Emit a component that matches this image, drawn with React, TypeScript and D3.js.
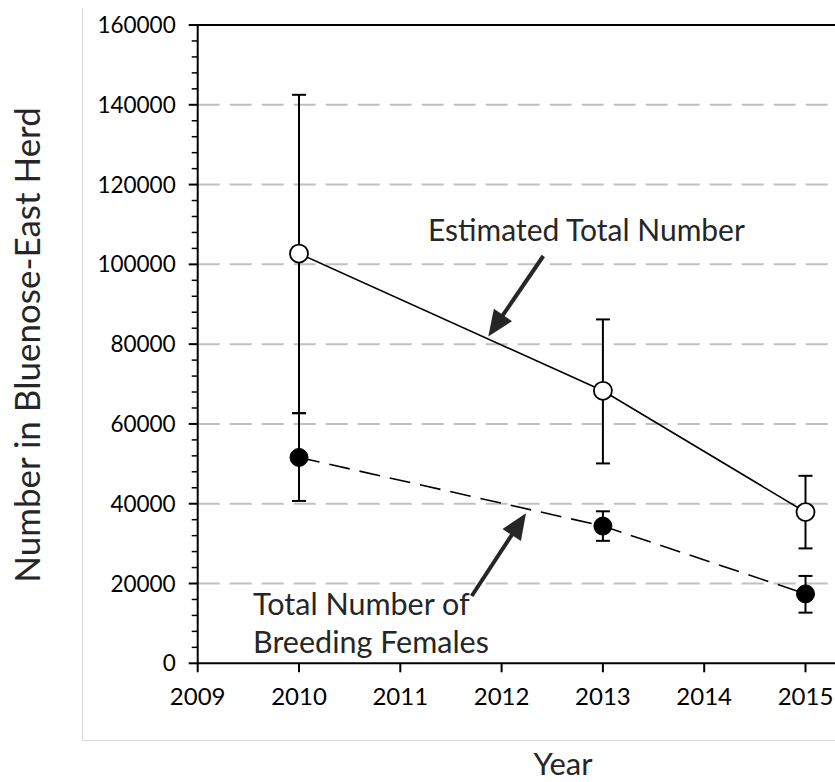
import React from "react";
import * as d3 from "d3";

const years = [2010, 2013, 2015];
const totalValues = [102700, 68300, 37900];
const totalLow = [62700, 50100, 28800];
const totalHigh = [142500, 86200, 47000];
const femaleValues = [51600, 34400, 17400];
const femaleLow = [40700, 30700, 12700];
const femaleHigh = [62700, 38100, 21900];
const xTicks = [2009, 2010, 2011, 2012, 2013, 2014, 2015];
const yTicks = [0, 20000, 40000, 60000, 80000, 100000, 120000, 140000, 160000];

const W = 835;
const H = 782;
const FONT = "Lato, 'Open Sans', sans-serif";

export default function App() {
  const x = d3.scaleLinear().domain([2009, 2015]).range([197.7, 805.5]);
  const y = d3.scaleLinear().domain([0, 160000]).range([663.3, 25]);
  const minor = d3.range(0, 160001, 4000).filter((v) => v % 20000 !== 0);
  const line = d3
    .line<number>()
    .x((_, i) => x(years[i]))
    .y((d) => y(d));
  const cap = 7;
  const r = 9;
  const textColor = "#262626";

  const arrow = (x1: number, y1: number, x2: number, y2: number) => {
    const ang = Math.atan2(y2 - y1, x2 - x1);
    const hl = 26;
    const hw = 11;
    const bx = x2 - hl * Math.cos(ang);
    const by = y2 - hl * Math.sin(ang);
    const px = -Math.sin(ang);
    const py = Math.cos(ang);
    const pts = [
      [x2, y2],
      [bx + hw * px, by + hw * py],
      [bx - hw * px, by - hw * py],
    ];
    return (
      <g>
        <line x1={x1} y1={y1} x2={bx + 2 * Math.cos(ang)} y2={by + 2 * Math.sin(ang)} stroke={textColor} strokeWidth={4} />
        <polygon points={pts.map((p) => p.join(",")).join(" ")} fill={textColor} />
      </g>
    );
  };

  return (
    <div style={{ position: "absolute", left: 0, top: 0 }}>
      <svg width={W} height={H} style={{ display: "block", background: "#fff" }}>
        {/* outer light frame */}
        <line x1={82.5} y1={8} x2={82.5} y2={740.5} stroke="#d9d9d9" strokeWidth={1} />
        <line x1={82.5} y1={740.5} x2={W} y2={740.5} stroke="#d9d9d9" strokeWidth={1} />

        {/* gridlines */}
        {yTicks
          .filter((v) => v > 0 && v < 160000)
          .map((v) => (
            <line key={"g" + v} x1={x(2009)} x2={W} y1={y(v)} y2={y(v)} stroke="#c0c0c0" strokeWidth={2} strokeDasharray="22 10" />
          ))}

        {/* top border */}
        <line x1={x(2009)} x2={W} y1={y(160000)} y2={y(160000)} stroke="#000" strokeWidth={2} />

        {/* y axis */}
        <line x1={x(2009)} x2={x(2009)} y1={y(160000) - 1} y2={y(0) + 1} stroke="#000" strokeWidth={2} />
        {yTicks.map((v) => (
          <g key={"yt" + v}>
            <line x1={x(2009) - 9} x2={x(2009)} y1={y(v)} y2={y(v)} stroke="#000" strokeWidth={2} />
            <text x={x(2009) - 22} y={y(v)} dy="0.36em" textAnchor="end" fontFamily={FONT} fontSize={22.5} fill="#000">
              {v}
            </text>
          </g>
        ))}
        {minor.map((v) => (
          <line key={"mt" + v} x1={x(2009) - 6} x2={x(2009)} y1={y(v)} y2={y(v)} stroke="#000" strokeWidth={1.5} />
        ))}

        {/* x axis */}
        <line x1={x(2009) - 1} x2={W} y1={y(0)} y2={y(0)} stroke="#000" strokeWidth={2} />
        {xTicks.map((v) => (
          <g key={"xt" + v}>
            <line x1={x(v)} x2={x(v)} y1={y(0)} y2={y(0) + 9} stroke="#000" strokeWidth={2} />
            <text x={x(v)} y={y(0) + 42} textAnchor="middle" fontFamily={FONT} fontSize={24} fill="#000">
              {v}
            </text>
          </g>
        ))}

        {/* axis titles */}
        <text
          transform={`translate(40,345) rotate(-90)`}
          textAnchor="middle"
          fontFamily={FONT}
          fontSize={35}
          fill={textColor}
        >
          Number in Bluenose-East Herd
        </text>
        <text x={563} y={775} textAnchor="middle" fontFamily={FONT} fontSize={31} fill={textColor}>
          Year
        </text>

        {/* error bars */}
        {years.map((yr, i) => (
          <g key={"eb" + yr} stroke="#000" strokeWidth={2}>
            <line x1={x(yr)} x2={x(yr)} y1={y(totalHigh[i])} y2={y(totalLow[i])} />
            <line x1={x(yr) - cap} x2={x(yr) + cap} y1={y(totalHigh[i])} y2={y(totalHigh[i])} />
            <line x1={x(yr) - cap} x2={x(yr) + cap} y1={y(totalLow[i])} y2={y(totalLow[i])} />
            <line x1={x(yr)} x2={x(yr)} y1={y(femaleHigh[i])} y2={y(femaleLow[i])} />
            <line x1={x(yr) - cap} x2={x(yr) + cap} y1={y(femaleHigh[i])} y2={y(femaleHigh[i])} />
            <line x1={x(yr) - cap} x2={x(yr) + cap} y1={y(femaleLow[i])} y2={y(femaleLow[i])} />
          </g>
        ))}

        {/* lines */}
        <path d={line(totalValues) || ""} fill="none" stroke="#000" strokeWidth={1.6} />
        <path d={line(femaleValues) || ""} fill="none" stroke="#000" strokeWidth={1.6} strokeDasharray="21 10" />

        {/* markers */}
        {years.map((yr, i) => (
          <circle key={"tc" + yr} cx={x(yr)} cy={y(totalValues[i])} r={r} fill="#fff" stroke="#000" strokeWidth={1.8} />
        ))}
        {years.map((yr, i) => (
          <circle key={"fc" + yr} cx={x(yr)} cy={y(femaleValues[i])} r={r} fill="#000" stroke="#000" strokeWidth={1} />
        ))}

        {/* annotations */}
        <text x={428} y={241} fontFamily={FONT} fontSize={30} fill={textColor}>
          Estimated Total Number
        </text>
        {arrow(543.3, 256, 488.3, 336.5)}
        <text x={253} y={615} fontFamily={FONT} fontSize={30.5} fill={textColor}>
          Total Number of
        </text>
        <text x={253} y={653} fontFamily={FONT} fontSize={30.5} fill={textColor}>
          Breeding Females
        </text>
        {arrow(471.7, 596, 526, 513.3)}
      </svg>
    </div>
  );
}
